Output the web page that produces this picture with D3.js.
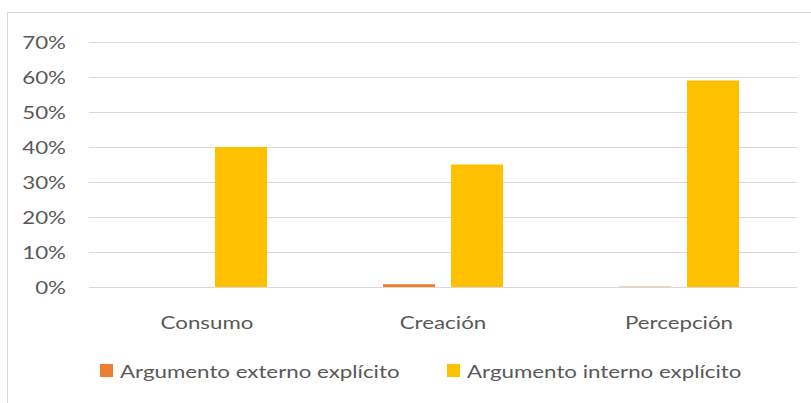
<!DOCTYPE html>
<html>
<head>
<meta charset="utf-8">
<script src="https://cdn.jsdelivr.net/npm/d3@7"></script>
<style>
  body { margin: 0; background: #fff; }
  svg { display: block; font-family: Lato, "Open Sans", sans-serif; }
</style>
</head>
<body>
<svg id="chart"></svg>
<script>
const categories = ["Consumo", "Creación", "Percepción"];
const seriesNames = ["Argumento externo explícito", "Argumento interno explícito"];
const externo = [0, 0.008, 0.001];
const interno = [0.40, 0.35, 0.59];
const yTicks = [0, 0.1, 0.2, 0.3, 0.4, 0.5, 0.6, 0.7];
const colors = ["#ED7D31", "#FFC000"];

const W = 811, H = 403;
const fontSize = 18, stretch = 1.24;
const svg = d3.select("#chart").attr("width", W).attr("height", H);

// chart frame
svg.append("rect")
  .attr("x", 7.5).attr("y", 12.5)
  .attr("width", 900).attr("height", 500)
  .attr("fill", "none")
  .attr("stroke", "#d9d9d9");

const plot = { left: 89, right: 797, top: 42, bottom: 287 };

const y = d3.scaleLinear().domain([0, 0.7]).range([plot.bottom, plot.top]);

const x0 = d3.scaleBand()
  .domain(categories)
  .range([plot.left, plot.right])
  .paddingInner(116 / 236)
  .paddingOuter(58 / 236);

const x1 = d3.scaleBand()
  .domain([0, 1])
  .range([0, x0.bandwidth()])
  .paddingInner(16 / 68);

// text helper, wide like the reference
function label(g, x, yy, txt, anchor) {
  return g.append("text")
    .attr("transform", `translate(${x},${yy}) scale(${stretch},1)`)
    .attr("text-anchor", anchor)
    .attr("fill", "#595959")
    .attr("font-size", fontSize)
    .text(txt);
}

// gridlines
svg.append("g")
  .selectAll("line")
  .data(yTicks)
  .join("line")
  .attr("x1", plot.left).attr("x2", plot.right)
  .attr("y1", d => Math.round(y(d)) + 0.5)
  .attr("y2", d => Math.round(y(d)) + 0.5)
  .attr("stroke", "#d9d9d9")
  .attr("stroke-width", 1);

// y labels
const yl = svg.append("g");
yTicks.forEach(d => label(yl, 66, y(d) + 6.5, d3.format(".0%")(d), "end"));

// bars
const series = [externo, interno];
series.forEach((vals, s) => {
  svg.append("g")
    .selectAll("rect")
    .data(vals)
    .join("rect")
    .attr("x", (d, i) => x0(categories[i]) + x1(s))
    .attr("width", x1.bandwidth())
    .attr("y", d => y(d))
    .attr("height", d => y(0) - y(d))
    .attr("fill", colors[s]);
});

// category labels
const xl = svg.append("g");
categories.forEach(c => label(xl, x0(c) + x0.bandwidth() / 2, 329, c, "middle"));

// legend
const legendX = [100, 447];
const legend = svg.append("g");
seriesNames.forEach((name, s) => {
  legend.append("rect")
    .attr("x", legendX[s]).attr("y", 364)
    .attr("width", 13).attr("height", 13)
    .attr("fill", colors[s]);
  label(legend, legendX[s] + 20, 378, name, "start");
});
</script>
</body>
</html>
